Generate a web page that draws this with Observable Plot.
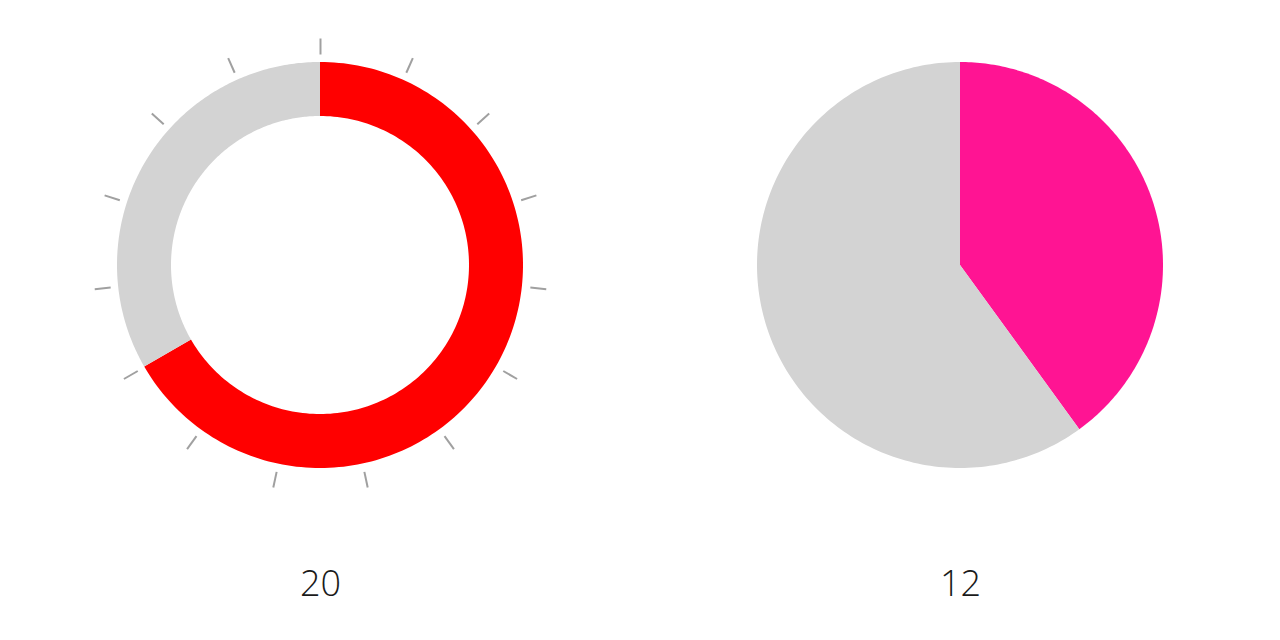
<!DOCTYPE html>
<html>
<head>
<meta charset="utf-8">
<script src="https://cdn.jsdelivr.net/npm/d3@7"></script>
<script src="https://cdn.jsdelivr.net/npm/@observablehq/plot@0.6"></script>
<style>
  html, body { margin: 0; padding: 0; background: #fff; }
  #chart { width: 1280px; height: 640px; }
</style>
</head>
<body>
<div id="chart"></div>
<script>
// ---- data ----
const gauges = ["donut", "pie"];
const values = [20, 12];
const maxValue = 30;
const fillColors = ["#ff0000", "#ff1493"];
const tickValues = d3.range(0, 30, 2); // 0,2,...,28 (ticks only on donut)

// ---- geometry (unit radius) ----
const innerRatio = [149 / 203, 0];
const tickR0 = 211 / 203, tickR1 = 227 / 203;
const steps = 180;

function ang(v) { return (v / maxValue) * 2 * Math.PI; } // clockwise from top
function pt(a, r) { return [r * Math.sin(a), r * Math.cos(a)]; }

function arcRows(gauge, v0, v1, ri, key) {
  const rows = [];
  const a0 = ang(v0), a1 = ang(v1);
  for (let i = 0; i <= steps; i++) {
    const a = a0 + (a1 - a0) * i / steps;
    const [xo, yo] = pt(a, 1);
    const [xi, yi] = pt(a, ri);
    rows.push({gauge, key, x1: xo, y1: yo, x2: xi, y2: yi});
  }
  return rows;
}

let areaRows = [];
gauges.forEach((g, i) => {
  areaRows = areaRows.concat(arcRows(g, 0, values[i], innerRatio[i], g + "-fill"));
  areaRows = areaRows.concat(arcRows(g, values[i], maxValue, innerRatio[i], g + "-rest"));
});
const colorOf = {};
gauges.forEach((g, i) => { colorOf[g + "-fill"] = fillColors[i]; colorOf[g + "-rest"] = "#d3d3d3"; });

const tickRows = tickValues.map(t => {
  const a = ang(t);
  const [xa, ya] = pt(a, tickR0);
  const [xb, yb] = pt(a, tickR1);
  return {gauge: "donut", x1: xa, y1: ya, x2: xb, y2: yb};
});

const labelRows = gauges.map((g, i) => ({gauge: g, label: String(values[i])}));

const R = 203;
const chart = Plot.plot({
  width: 1280,
  height: 640,
  margin: 0,
  style: {background: "#fff", overflow: "visible"},
  fx: {domain: gauges, padding: 0, axis: null},
  x: {domain: [-320 / R, 320 / R], axis: null},
  y: {domain: [-375 / R, 265 / R], axis: null},
  marks: [
    Plot.area(areaRows, {
      fx: "gauge", x1: "x1", y1: "y1", x2: "x2", y2: "y2", z: "key",
      fill: d => colorOf[d.key], curve: "linear"
    }),
    Plot.link(tickRows, {
      fx: "gauge", x1: "x1", y1: "y1", x2: "x2", y2: "y2",
      stroke: "#a0a0a0", strokeWidth: 2
    }),
    Plot.text(labelRows, {
      fx: "gauge", x: () => 0, y: () => -(584 - 265) / R, text: "label",
      fontSize: 36, fill: "#1a1a1a", lineAnchor: "middle",
      fontFamily: "'Open Sans', sans-serif", fontWeight: 300
    })
  ]
});
document.getElementById("chart").appendChild(chart);
</script>
</body>
</html>
